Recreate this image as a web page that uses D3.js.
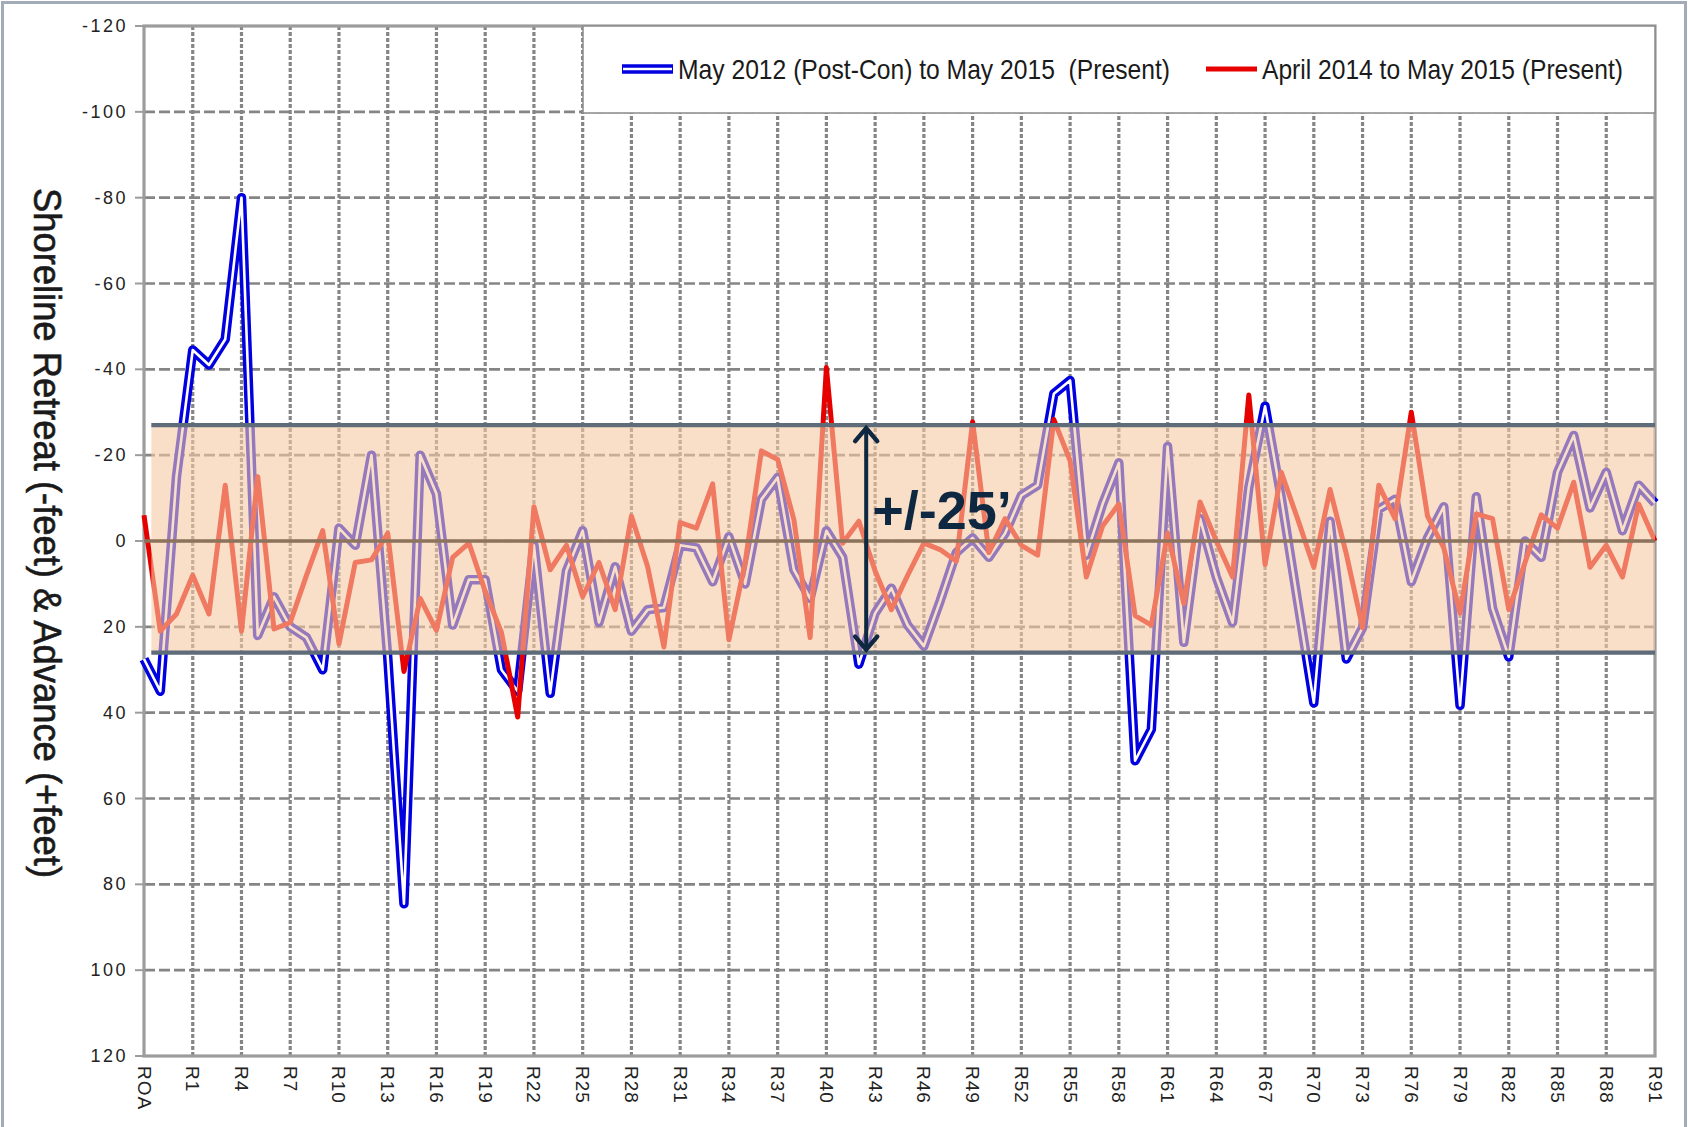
<!DOCTYPE html>
<html><head><meta charset="utf-8">
<script src="https://cdn.jsdelivr.net/npm/d3@7"></script>
<style>
body{margin:0;background:#fff;}
svg{display:block;font-family:"Liberation Sans",Arial,sans-serif;}
</style>
</head><body>
<svg id="c" width="1688" height="1127"></svg>
<script>
const categories = ["ROA","ROB","ROC","R1","R2","R3","R4","R5","R6","R7","R8","R9","R10","R11","R12","R13","R14","R15","R16","R17","R18","R19","R20","R21","R22","R23","R24","R25","R26","R27","R28","R29","R30","R31","R32","R33","R34","R35","R36","R37","R38","R39","R40","R41","R42","R43","R44","R45","R46","R47","R48","R49","R50","R51","R52","R53","R54","R55","R56","R57","R58","R59","R60","R61","R62","R63","R64","R65","R66","R67","R68","R69","R70","R71","R72","R73","R74","R75","R76","R77","R78","R79","R80","R81","R82","R83","R84","R85","R86","R87","R88","R89","R90","R91"];

const may2012 = [27.5,35,-15,-44.5,-41,-47,-80,22,13,20,22.5,30,-3,1,-20,27,84.5,-20,-11,19.6,9,9,30,35,1,35.5,7,-2.4,19,6,21,16,15.5,1,1.6,9.5,-1,10,-9.7,-14.8,6.7,13.4,-2.4,3.8,28.7,16.8,11,19.6,24.5,14,2.7,-0.7,3.8,-1.8,-10.6,-13,-34.3,-37.4,3.3,-8.6,-18.2,51.2,43.9,-22,23.6,-5.2,8.4,19,-12.5,-31.4,-10,14,37.7,-4.6,27.5,20.2,-7.4,-9.7,9.5,-0.7,-8,38.3,-10.3,15.7,27,0,3.8,-16,-24.6,-7.7,-16,-2.4,-13,-8.8];

const april2014 = [-6,21,17,8,17,-13,21,-15,20.5,19,8,-2.4,24,5,4.4,-1.8,30.4,13.4,20.8,3.8,0.5,11.7,21.3,41,-8,6.7,1,13,5,16,-5.8,6,24.7,-4.3,-3,-13.3,23,5,-21,-19,-5,22.5,-40.4,0.5,-4.6,7,16,8,0.5,2,4.7,-27.8,2.7,-5.2,1,3.3,-28.3,-18.7,8.4,-3.5,-8.6,17.4,19.6,-1.8,14.6,-9.1,0,8.4,-34,5.5,-16,-5.2,6.1,-12,3,20.2,-13,-5.2,-30,-5.8,1.6,16.8,-6.3,-5.2,16,5,-6.1,-3,-13.7,6.1,1,8.4,-8.6,0];

const yTickValues = [-120,-100,-80,-60,-40,-20,0,20,40,60,80,100,120];
const seriesNames = ["May 2012 (Post-Con) to May 2015  (Present)", "April 2014 to May 2015 (Present)"];
const yTitle = "Shoreline Retreat (-feet) & Advance (+feet)";
const bandLimits = [-27, 26];
const annotationText = "+/-25’";
const annotationIndex = 44.45;

const svg = d3.select("#c");
const P = {left:144, right:1655, top:26, bottom:1056};
const x = d3.scalePoint().domain(categories).range([P.left, P.right]);
const y = d3.scaleLinear().domain([-120,120]).range([P.top, P.bottom]);
const step = x.step();

// outer frame
svg.append("rect").attr("x",2.5).attr("y",2.5).attr("width",1683).attr("height",1150)
  .attr("fill","none").attr("stroke","#a3acb6").attr("stroke-width",3);

// horizontal grid
const g = svg.append("g");
g.selectAll("line.h").data(yTickValues.filter(v=>v!==120 && v!==-120)).join("line")
  .attr("x1",P.left).attr("x2",P.right).attr("y1",d=>y(d)).attr("y2",d=>y(d))
  .attr("stroke","#858585").attr("stroke-width",2.6).attr("stroke-dasharray","11,4");
// vertical grid every 3rd category
const vIdx = categories.map((c,i)=>i).filter(i=>i%3===0 && i>0 && i<categories.length-1);
g.selectAll("line.v").data(vIdx).join("line")
  .attr("x1",i=>x(categories[i])).attr("x2",i=>x(categories[i]))
  .attr("y1",P.top).attr("y2",P.bottom)
  .attr("stroke","#858585").attr("stroke-width",3.2).attr("stroke-dasharray","4,2");

// plot border
svg.append("rect").attr("x",P.left).attr("y",P.top).attr("width",P.right-P.left).attr("height",P.bottom-P.top)
  .attr("fill","none").attr("stroke","#9c9c9c").attr("stroke-width",3.2);

// y ticks
svg.selectAll("line.yt").data(yTickValues).join("line")
  .attr("x1",P.left-9).attr("x2",P.left).attr("y1",d=>y(d)).attr("y2",d=>y(d))
  .attr("stroke","#9c9c9c").attr("stroke-width",2);
svg.selectAll("text.yl").data(yTickValues).join("text")
  .attr("x",P.left-16).attr("y",d=>y(d)).attr("text-anchor","end").attr("dominant-baseline","central")
  .attr("font-size",18).attr("letter-spacing","2.5px").attr("fill","#222").text(d=>d);

// x labels
svg.selectAll("text.xl").data(categories.filter((c,i)=>i%3===0)).join("text")
  .attr("transform",d=>`translate(${x(d)},${P.bottom+10}) rotate(90)`)
  .attr("text-anchor","start").attr("dominant-baseline","central")
  .attr("font-size",19).attr("letter-spacing","1px").attr("fill","#222").text(d=>d);

// y title
svg.append("text").attr("transform",`translate(47,${(P.top+P.bottom)/2-8}) rotate(90)`)
  .attr("text-anchor","middle").attr("dominant-baseline","central")
  .attr("font-size",38).attr("textLength",690).attr("lengthAdjust","spacingAndGlyphs")
  .attr("fill","#1a1a1a").attr("stroke","#1a1a1a").attr("stroke-width",0.6).text(yTitle);

// series
const line = d3.line().x((d,i)=>x(categories[i])).y(d=>y(d));
svg.append("path").attr("d",line(may2012)).attr("fill","none").attr("stroke","#0000e0")
  .attr("stroke-width",9.5).attr("stroke-linejoin","round");
svg.append("path").attr("d",line(may2012)).attr("fill","none").attr("stroke","#ffffff")
  .attr("stroke-width",2.6).attr("stroke-linejoin","round");
svg.append("path").attr("d",line(april2014)).attr("fill","none").attr("stroke","#e60000")
  .attr("stroke-width",5).attr("stroke-linejoin","round");

// band overlay
svg.append("rect").attr("x",P.left+step*0.45).attr("y",y(bandLimits[0]))
  .attr("width",P.right-(P.left+step*0.45)).attr("height",y(bandLimits[1])-y(bandLimits[0]))
  .attr("fill","rgb(246,202,164)").attr("fill-opacity",0.6);
// zero line
svg.append("line").attr("x1",P.left).attr("x2",P.right).attr("y1",y(0)).attr("y2",y(0))
  .attr("stroke","#8c735c").attr("stroke-width",3.5);
// band borders
svg.selectAll("line.bb").data(bandLimits).join("line")
  .attr("x1",P.left+step*0.45).attr("x2",P.right).attr("y1",d=>y(d)).attr("y2",d=>y(d))
  .attr("stroke","#5e6b78").attr("stroke-width",4.2);

// annotation arrow
const ax = x(categories[0]) + annotationIndex*step;
const ac = "#0d2840";
svg.append("line").attr("x1",ax).attr("x2",ax).attr("y1",y(bandLimits[0])+3).attr("y2",y(bandLimits[1])-3)
  .attr("stroke",ac).attr("stroke-width",4);
svg.append("path").attr("d",`M${ax-11},${y(bandLimits[0])+16} L${ax},${y(bandLimits[0])+3} L${ax+11},${y(bandLimits[0])+16}`)
  .attr("fill","none").attr("stroke",ac).attr("stroke-width",4.5).attr("stroke-linecap","round");
svg.append("path").attr("d",`M${ax-11},${y(bandLimits[1])-16} L${ax},${y(bandLimits[1])-3} L${ax+11},${y(bandLimits[1])-16}`)
  .attr("fill","none").attr("stroke",ac).attr("stroke-width",4.5).attr("stroke-linecap","round");
svg.append("text").attr("x",ax+6).attr("y",y(0)-12).attr("font-size",54).attr("font-weight","bold")
  .attr("fill",ac).text(annotationText);

// legend
const L = {x:583, y:P.top, w:P.right-583, h:87};
svg.append("rect").attr("x",L.x).attr("y",L.y).attr("width",L.w).attr("height",L.h)
  .attr("fill","#fff").attr("stroke","#8a8a8a").attr("stroke-width",1.5);
const ly = L.y + 43;
svg.append("line").attr("x1",622).attr("x2",673).attr("y1",ly).attr("y2",ly).attr("stroke","#0000e0").attr("stroke-width",9.5);
svg.append("line").attr("x1",623).attr("x2",672).attr("y1",ly).attr("y2",ly).attr("stroke","#fff").attr("stroke-width",2.6);
svg.append("text").attr("x",678).attr("y",ly).attr("dominant-baseline","central").attr("font-size",28)
  .style("white-space","pre").attr("textLength",492).attr("lengthAdjust","spacingAndGlyphs")
  .attr("fill","#1a1a1a").text(seriesNames[0]);
svg.append("line").attr("x1",1206).attr("x2",1257).attr("y1",ly).attr("y2",ly).attr("stroke","#e60000").attr("stroke-width",5);
svg.append("text").attr("x",1262).attr("y",ly).attr("dominant-baseline","central").attr("font-size",28)
  .attr("textLength",361).attr("lengthAdjust","spacingAndGlyphs")
  .attr("fill","#1a1a1a").text(seriesNames[1]);
</script>
</body></html>
